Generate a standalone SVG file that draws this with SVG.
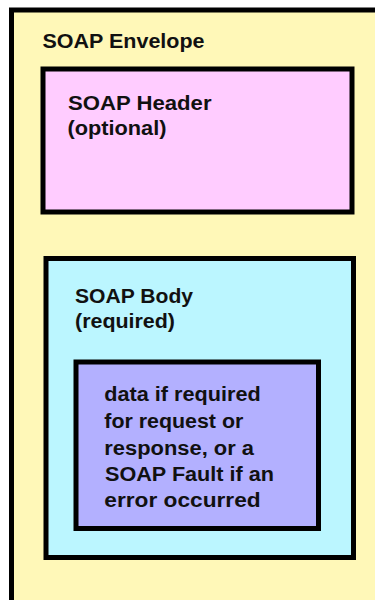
<svg xmlns="http://www.w3.org/2000/svg" width="375" height="600" viewBox="0 0 375 600">
<style>
.box{stroke:#000;stroke-width:5}
.t{font-family:"Liberation Sans",Arial,sans-serif;font-weight:bold;font-size:20px;fill:#111}
</style>
<rect width="375" height="600" fill="#fff"/>
<g id="envelope">
<rect class="box" x="11.5" y="10" width="400" height="620" fill="#FFF8B8"/>
<text class="t" x="42.5" y="48" textLength="162" lengthAdjust="spacingAndGlyphs">SOAP Envelope</text>
</g>
<g id="header">
<rect class="box" x="43" y="69" width="309" height="143" fill="#FFCCFF"/>
<text class="t" x="68" y="110" textLength="143.5" lengthAdjust="spacingAndGlyphs">SOAP Header</text>
<text class="t" x="67.5" y="135" textLength="99" lengthAdjust="spacingAndGlyphs">(optional)</text>
</g>
<g id="body">
<rect class="box" x="46" y="258.5" width="307.5" height="299" fill="#BBF6FF"/>
<text class="t" x="75" y="303" textLength="118" lengthAdjust="spacingAndGlyphs">SOAP Body</text>
<text class="t" x="75" y="328" textLength="100" lengthAdjust="spacingAndGlyphs">(required)</text>
</g>
<g id="data">
<rect class="box" x="76" y="362" width="242.5" height="166.5" fill="#B3B0FF"/>
<text class="t" x="104.3" y="401" textLength="156.4" lengthAdjust="spacingAndGlyphs">data if required</text>
<text class="t" x="104.3" y="428" textLength="139" lengthAdjust="spacingAndGlyphs">for request or</text>
<text class="t" x="104.3" y="455" textLength="149.7" lengthAdjust="spacingAndGlyphs">response, or a</text>
<text class="t" x="105" y="481" textLength="169" lengthAdjust="spacingAndGlyphs">SOAP Fault if an</text>
<text class="t" x="104.3" y="507" textLength="156.4" lengthAdjust="spacingAndGlyphs">error occurred</text>
</g>
<g id="connectors"/>
</svg>
